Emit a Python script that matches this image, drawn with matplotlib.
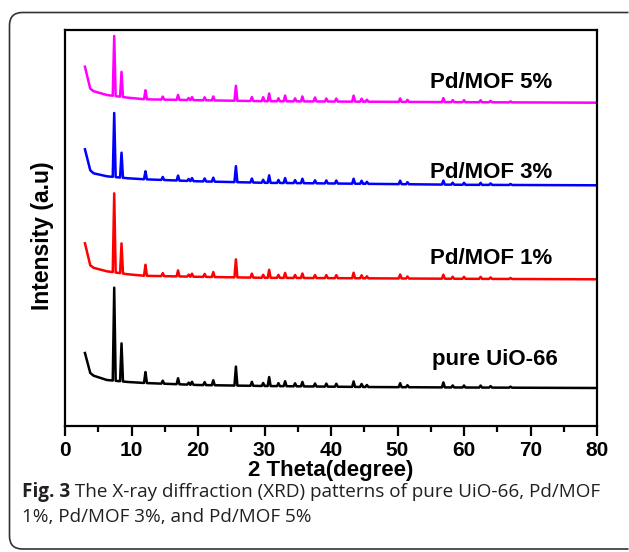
import numpy as np
import matplotlib
matplotlib.use("Agg")
import matplotlib.pyplot as plt
from matplotlib import font_manager
from matplotlib.patches import PathPatch
from matplotlib.path import Path
from matplotlib.transforms import IdentityTransform

# ---------------- data ----------------
base_2theta = [3.0, 3.8, 4.3, 6.3, 9.5, 12, 20, 30, 45, 60, 80]
black_base = [35, 15, 12.3, 8, 6, 5, 3, 2, 1, 0.5, 0]
red_base = [36, 14, 11.5, 8, 5, 3.5, 2.5, 1.5, 1, 0.5, 0]
blue_base = [36, 15, 12, 9, 7, 6, 4, 2.5, 1.5, 0.5, 0]
magenta_base = [36, 14, 11.5, 7.7, 5, 3.4, 2.5, 1.5, 1, 0.5, 0]

peaks_2theta = [7.4, 8.5, 12.1, 14.7, 17.0, 18.6, 19.1, 21.0, 22.3, 25.7,
                28.1, 29.8, 30.7, 32.1, 33.1, 34.6, 35.7, 37.6, 39.3, 40.8,
                43.4, 44.6, 45.4, 50.4, 51.5, 56.9, 58.3, 60.0, 62.5, 64.0, 67.0]
black_peaks = [93, 38, 11, 3, 6, 2, 3, 3, 5, 19, 4, 3, 9, 3, 5, 3, 4.5, 3, 3, 3,
               5.5, 3, 2, 4, 2, 5, 2, 2, 2, 1.5, 1]
red_peaks = [79, 30, 11, 3, 6, 2, 3, 3, 5, 18, 4, 3, 8, 3, 5, 3, 4.5, 3, 3, 3,
             5.5, 3, 2, 4, 2, 4, 2, 2, 2, 1.5, 1]
blue_peaks = [64, 25, 8, 3, 5, 2, 3, 3, 4, 16, 4, 3, 7.5, 3, 5, 3, 4.5, 3, 3, 3,
              5, 3, 2, 3.5, 2, 4, 2, 2, 2, 1.5, 1]
magenta_peaks = [60, 25, 9, 3, 5, 2, 3, 3, 4, 15, 4, 4, 7.7, 3, 5.7, 3, 5, 4, 3, 3,
                 6, 3, 2, 3.5, 2, 4, 2, 2, 2, 1.5, 1]

series_names = ["pure UiO-66", "Pd/MOF 1%", "Pd/MOF 3%", "Pd/MOF 5%"]
series_colors = ["#000000", "#ff0000", "#0000ff", "#ff00ff"]
series_offsets = [0, 108.7, 202.7, 285.3]
series_bases = [black_base, red_base, blue_base, magenta_base]
series_peaks = [black_peaks, red_peaks, blue_peaks, magenta_peaks]
label_pos = [(64.7, 28), (64.1, 130), (64.1, 215), (64.1, 305)]

xticks = [0, 10, 20, 30, 40, 50, 60, 70, 80]

caption_bold = "Fig. 3"
caption_line1 = " The X-ray diffraction (XRD) patterns of pure UiO-66, Pd/MOF"
caption_line2 = "1%, Pd/MOF 3%, and Pd/MOF 5%"

# ---------------- fonts ----------------
avail = {f.name for f in font_manager.fontManager.ttflist}
narrow = "Liberation Sans Narrow" if "Liberation Sans Narrow" in avail else "Liberation Sans"
arial = "Liberation Sans" if "Liberation Sans" in avail else "DejaVu Sans"
capfont = "Open Sans" if "Open Sans" in avail else "DejaVu Sans"

W, H = 629, 552
fig = plt.figure(figsize=(W / 100, H / 100), dpi=100)

# outer rounded frame: open path, right side reaches the canvas edge
xl, yt, yb, rr, xr = 9.5, H - 12.5, 3.0, 13.0, W - 0.5
verts = [(xr, yt), (xl + rr, yt), (xl, yt), (xl, yt - rr), (xl, yb + rr),
         (xl, yb), (xl + rr, yb), (xr, yb)]
codes = [Path.MOVETO, Path.LINETO, Path.CURVE3, Path.CURVE3, Path.LINETO,
         Path.CURVE3, Path.CURVE3, Path.LINETO]
frame = PathPatch(Path(verts, codes), transform=IdentityTransform(), fill=False,
                  edgecolor="#333333", linewidth=1.2, capstyle="butt")
fig.patches.append(frame)

ax = fig.add_axes([65 / W, (H - 426) / H, (597 - 65) / W, (426 - 30) / H])

half_w = 0.22
for base, peaks, off, col in zip(series_bases, series_peaks, series_offsets, series_colors):
    xs = list(base_2theta)
    for p in peaks_2theta:
        xs += [p - half_w, p, p + half_w]
    xs = np.array(sorted(set(xs)))
    ys = np.interp(xs, base_2theta, base)
    for p, h in zip(peaks_2theta, peaks):
        ys = ys + np.clip(h * (1 - np.abs(xs - p) / half_w), 0, None)
    ax.plot(xs, ys + off, color=col, linewidth=1.8, solid_joinstyle="round")

for name, (lx, ly) in zip(series_names, label_pos):
    ax.text(lx, ly, name, ha="center", va="center", fontsize=16,
            fontweight="bold", family=arial)

ax.set_xlim(0, 80)
ax.set_ylim(-38, 358)
ax.set_xticks(xticks)
ax.set_xticks(np.arange(5, 80, 10), minor=True)
ax.set_yticks([])
ax.tick_params(axis="x", which="major", direction="out", length=7, width=1.6, pad=4)
ax.tick_params(axis="x", which="minor", direction="out", length=4, width=1.6)
for lab in ax.get_xticklabels():
    lab.set_fontfamily(narrow)
    lab.set_fontweight("bold")
    lab.set_fontsize(15)
for s in ax.spines.values():
    s.set_linewidth(1.6)
ax.set_xlabel("2 Theta(degree)", fontsize=16, fontweight="bold", family=narrow, labelpad=0)
ax.set_ylabel("Intensity (a.u)", fontsize=16.5, fontweight="bold", family=arial)
ax.yaxis.set_label_coords(-0.02, 0.48)

# caption
fig.canvas.draw()
r = fig.canvas.get_renderer()
t1 = fig.text(22 / W, 1 - 492 / H, caption_bold, fontsize=13.6, fontweight="bold",
              family=capfont, va="center", ha="left", color="#231f20")
bb = t1.get_window_extent(renderer=r)
fig.text(bb.x1 / W, 1 - 492 / H, caption_line1, fontsize=13.6, family=capfont,
         va="center", ha="left", color="#231f20")
fig.text(22 / W, 1 - 517 / H, caption_line2, fontsize=13.6, family=capfont,
         va="center", ha="left", color="#231f20")

fig.savefig("out.png", dpi=100)
